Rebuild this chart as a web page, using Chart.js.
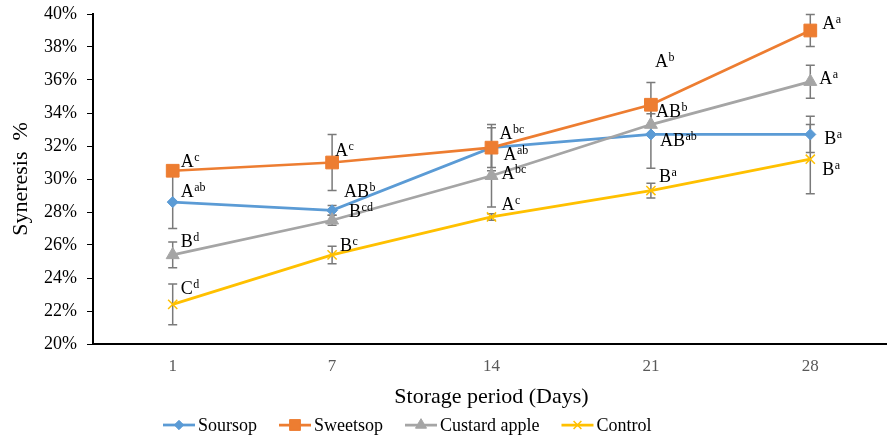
<!DOCTYPE html>
<html lang="en">
<head>
<meta charset="UTF-8">
<title>Syneresis during storage</title>
<script src="https://cdn.jsdelivr.net/npm/chart.js"></script>
<style>
    html, body { margin: 0; padding: 0; background: #fff; overflow: hidden; }
    #wrap { width: 900px; height: 440px; }
</style>
</head>
<body>
<div id="wrap"><canvas id="chart" width="900" height="440"></canvas></div>
<script>
    // Data (syneresis in %)
    const days = ['1', '7', '14', '21', '28'];
    const yTickLabels = ['20%', '22%', '24%', '26%', '28%', '30%', '32%', '34%', '36%', '38%', '40%'];

    const soursop      = [28.6, 28.1, 31.9, 32.7, 32.7];
    const sweetsop     = [30.5, 31.0, 31.9, 34.5, 39.0];
    const custardApple = [25.4, 27.5, 30.2, 33.3, 35.9];
    const control      = [22.4, 25.4, 27.7, 29.3, 31.2];

    // error bar half-widths
    const soursopErr      = [1.6, 0.3, 1.2, 2.05, 1.1];
    const sweetsopErr     = [0.3, 1.7, 1.4, 1.35, 0.97];
    const custardAppleErr = [0.78, 0.3, 1.9, 0.65, 1.0];
    const controlErr      = [1.23, 0.53, 0.2, 0.45, 2.1];

    // significance letters [main, superscript]
    const soursopLetters      = [['A', 'ab'], ['AB', 'b'], ['A', 'ab'], ['AB', 'ab'], ['B', 'a']];
    const sweetsopLetters     = [['A', 'c'], ['A', 'c'], ['A', 'bc'], ['A', 'b'], ['A', 'a']];
    const custardAppleLetters = [['B', 'd'], ['B', 'cd'], ['A', 'bc'], ['AB', 'b'], ['A', 'a']];
    const controlLetters      = [['C', 'd'], ['B', 'c'], ['A', 'c'], ['B', 'a'], ['B', 'a']];

    // where each letter sits relative to its point (px)
    const soursopLetterPos      = [[8, -5], [12, -13], [12, 12], [9, 12], [14, 10]];
    const sweetsopLetterPos     = [[8, -4], [3, -7], [8, -9], [4, -38], [12, -2]];
    const custardAppleLetterPos = [[8, -8], [17, -3], [10, 3], [5, -8], [9, 2]];
    const controlLetterPos      = [[8, -10], [8, -4], [10, -7], [8, -9], [12, 16]];

    const errorSets  = [soursopErr, sweetsopErr, custardAppleErr, controlErr];
    const letterSets = [soursopLetters, sweetsopLetters, custardAppleLetters, controlLetters];
    const letterPos  = [soursopLetterPos, sweetsopLetterPos, custardAppleLetterPos, controlLetterPos];

    const SERIF = '"Liberation Serif", "Times New Roman", serif';

    // Error bars under the lines
    const errorBars = {
        id: 'errorBars',
        beforeDatasetsDraw(chart) {
            const { ctx, scales: { x, y } } = chart;
            ctx.save();
            ctx.strokeStyle = '#7a7a7a';
            ctx.lineWidth = 1.5;
            chart.data.datasets.forEach((ds, i) => {
                errorSets[i].forEach((e, j) => {
                    const px = x.getPixelForValue(j);
                    const top = y.getPixelForValue(ds.data[j] + e);
                    const bot = y.getPixelForValue(ds.data[j] - e);
                    ctx.beginPath();
                    ctx.moveTo(px, top); ctx.lineTo(px, bot);
                    ctx.moveTo(px - 4.5, top); ctx.lineTo(px + 4.5, top);
                    ctx.moveTo(px - 4.5, bot); ctx.lineTo(px + 4.5, bot);
                    ctx.stroke();
                });
            });
            ctx.restore();
        }
    };

    // Letters with superscripts next to the points
    const letterLabels = {
        id: 'letterLabels',
        afterDatasetsDraw(chart) {
            const { ctx, scales: { x, y } } = chart;
            ctx.save();
            ctx.fillStyle = '#000';
            ctx.textBaseline = 'alphabetic';
            ctx.textAlign = 'left';
            chart.data.datasets.forEach((ds, i) => {
                letterSets[i].forEach(([main, sup], j) => {
                    const px = x.getPixelForValue(j) + letterPos[i][j][0];
                    const py = y.getPixelForValue(ds.data[j]) + letterPos[i][j][1];
                    ctx.font = '18px ' + SERIF;
                    ctx.fillText(main, px, py);
                    const w = ctx.measureText(main).width;
                    ctx.font = '12px ' + SERIF;
                    ctx.fillText(sup, px + w + 0.5, py - 6);
                });
            });
            ctx.restore();
        }
    };

    // Legend with line + marker, like the spreadsheet one
    const lineLegend = {
        id: 'lineLegend',
        afterDraw(chart) {
            const ctx = chart.ctx;
            let cx = 163;
            const cy = 425;
            ctx.save();
            ctx.font = '18px ' + SERIF;
            ctx.textBaseline = 'middle';
            chart.data.datasets.forEach(ds => {
                ctx.strokeStyle = ds.borderColor;
                ctx.lineWidth = ds.borderWidth;
                ctx.beginPath();
                ctx.moveTo(cx, cy); ctx.lineTo(cx + 32, cy);
                ctx.stroke();
                ctx.fillStyle = ds.pointBackgroundColor;
                ctx.strokeStyle = ds.pointBorderColor;
                ctx.lineWidth = ds.pointBorderWidth;
                Chart.helpers.drawPoint(ctx, {
                    pointStyle: ds.pointStyle, radius: ds.pointRadius * 0.85,
                    borderWidth: ds.pointBorderWidth, rotation: 0
                }, cx + 16, cy);
                ctx.fillStyle = '#000';
                ctx.fillText(ds.label, cx + 35, cy + 1);
                cx += 35 + ctx.measureText(ds.label).width + 22;
            });
            ctx.restore();
        }
    };

    function series(label, data, color, style, radius, order) {
        return {
            label: label,
            data: data,
            borderColor: color,
            backgroundColor: color,
            borderWidth: 2.75,
            pointStyle: style,
            pointRadius: radius,
            pointBackgroundColor: color,
            pointBorderColor: color,
            pointBorderWidth: style === 'crossRot' ? 1.5 : 1,
            tension: 0,
            fill: false,
            order: order
        };
    }

    new Chart(document.getElementById('chart'), {
        type: 'line',
        data: {
            labels: days,
            datasets: [
                series('Soursop', soursop, '#5b9bd5', 'rectRot', 5.5, 3),
                series('Sweetsop', sweetsop, '#ed7d31', 'rect', 9, 2),
                series('Custard apple', custardApple, '#a5a5a5', 'triangle', 7.5, 1),
                series('Control', control, '#ffc000', 'crossRot', 6.5, 0)
            ]
        },
        options: {
            responsive: false,
            animation: false,
            events: [],
            layout: { padding: { top: 14, right: 7, bottom: 26, left: 0 } },
            plugins: {
                legend: { display: false },
                tooltip: { enabled: false }
            },
            scales: {
                x: {
                    offset: true,
                    grid: { display: false, drawTicks: false },
                    border: { color: '#000', width: 2 },
                    ticks: {
                        color: '#595959',
                        padding: 12,
                        font: { family: SERIF, size: 17 }
                    },
                    title: {
                        display: true,
                        text: 'Storage period (Days)',
                        color: '#000',
                        font: { family: SERIF, size: 22 },
                        padding: { top: 0, bottom: 4 }
                    },
                    afterFit(scale) { scale.height = 70; }
                },
                y: {
                    min: 20,
                    max: 40,
                    grid: { drawOnChartArea: false, drawTicks: true, tickLength: 6, color: '#000', lineWidth: 1 },
                    border: { color: '#000', width: 2 },
                    ticks: {
                        stepSize: 2,
                        padding: 10,
                        color: '#000',
                        font: { family: SERIF, size: 18 },
                        callback: (value, index) => yTickLabels[index]
                    },
                    title: {
                        display: true,
                        text: 'Syneresis  %',
                        color: '#000',
                        font: { family: SERIF, size: 22 },
                        padding: { top: 8, bottom: 0 }
                    },
                    afterFit(scale) {
                        scale.width = 93;
                        scale.paddingTop = 0;
                        scale.paddingBottom = 0;
                    }
                }
            }
        },
        plugins: [errorBars, letterLabels, lineLegend]
    });
</script>
</body>
</html>
